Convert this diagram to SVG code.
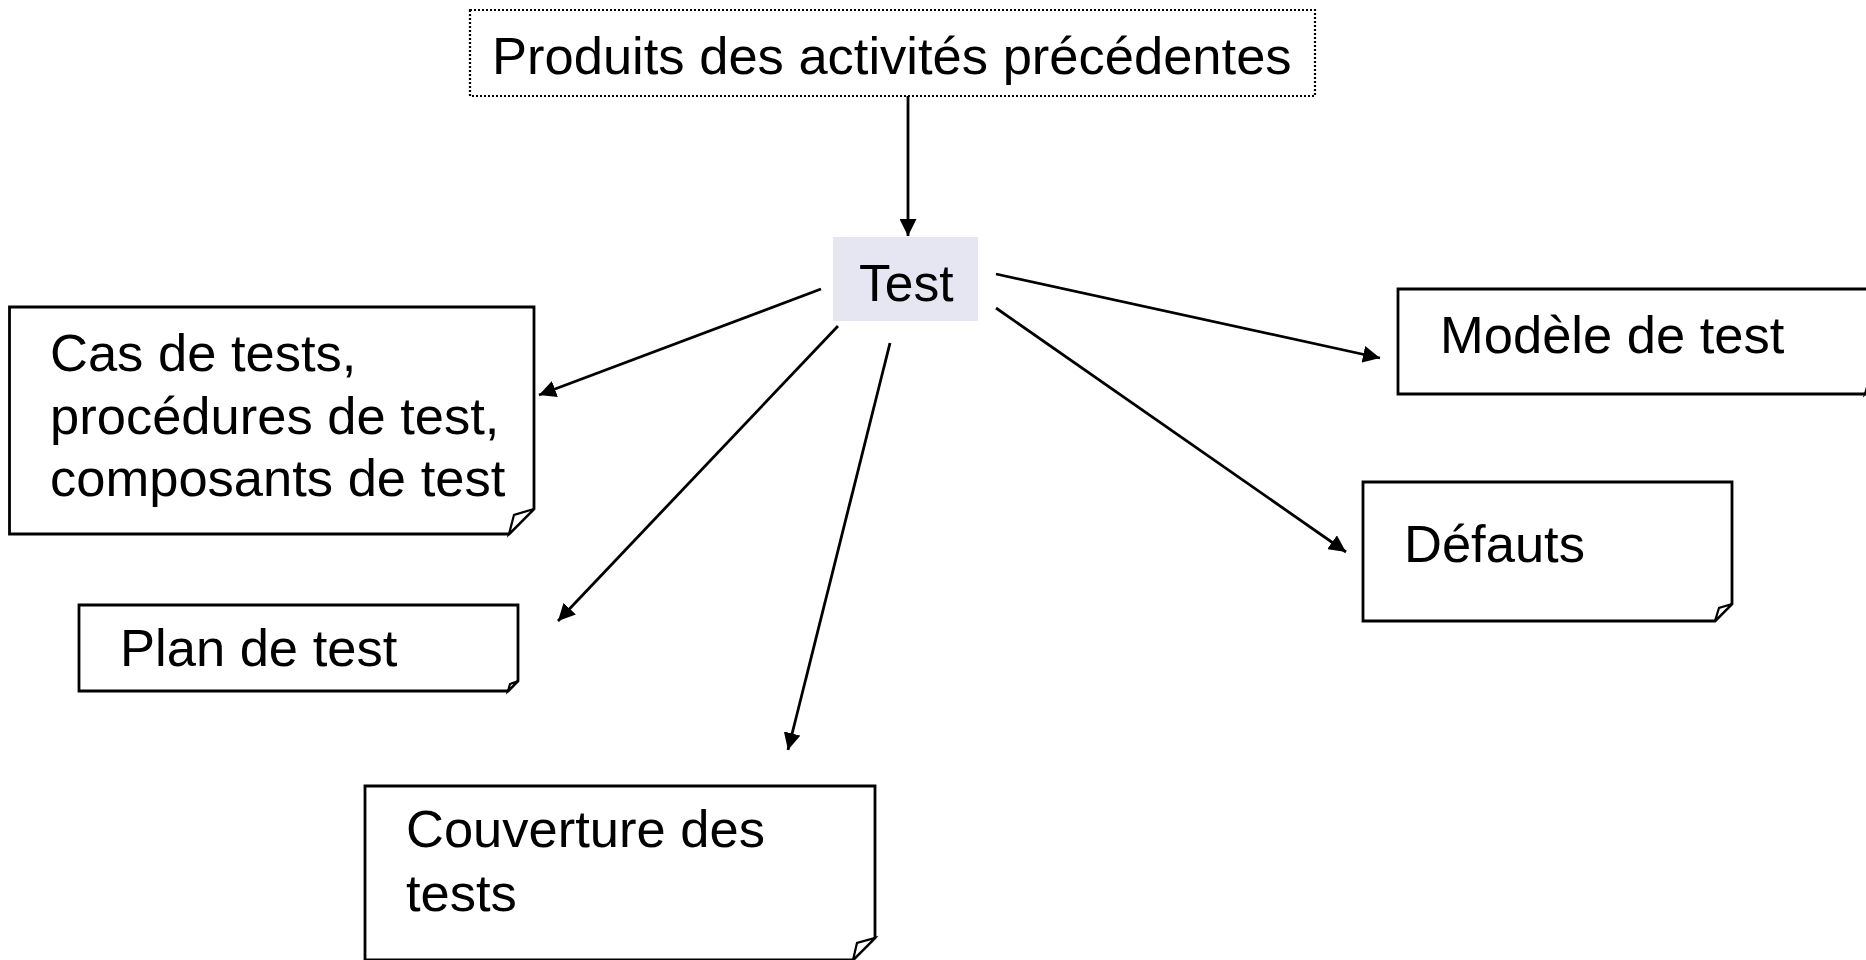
<svg xmlns="http://www.w3.org/2000/svg" width="1866" height="960" viewBox="0 0 1866 960">
  <style>
    text { font-family: "Liberation Sans", Arial, sans-serif; font-size: 52.5px; fill: #000; }
    .doc { fill: #fff; stroke: #000; stroke-width: 2.8; stroke-linejoin: miter; }
    .flap { fill: #fff; stroke: #000; stroke-width: 2.2; stroke-linejoin: miter; }
    .edge { stroke: #000; stroke-width: 2.8; fill: none; marker-end: url(#arrow); }
  </style>
  <defs>
    <!-- filled triangular arrowhead for the connectors -->
    <marker id="arrow" viewBox="0 0 10 10" refX="10" refY="5" markerWidth="17" markerHeight="17" markerUnits="userSpaceOnUse" orient="auto">
      <path d="M0,0 L10,5 L0,10 Z" fill="#000"/>
    </marker>
  </defs>
  <rect width="1866" height="960" fill="#fff"/>

  <g id="node-produits">
    <rect x="470" y="10" width="845" height="86" fill="#fff" stroke="#000" stroke-width="2.2" stroke-dasharray="2 2"/>
    <text x="492" y="74">Produits des activités précédentes</text>
  </g>

  <g id="node-test">
    <rect x="833" y="237" width="145" height="84" fill="#e6e6f2"/>
    <text x="859" y="301" style="font-size:51.5px">Test</text>
  </g>

  <g id="node-cas">
    <path class="doc" d="M9.5,307 H534 V509 L509,534 H9.5 Z"/>
    <path class="flap" d="M509,534 L514,515 L534,509 Z"/>
    <text x="50" y="371">Cas de tests,</text>
    <text x="50" y="434">procédures de test,</text>
    <text x="50" y="496">composants de test</text>
  </g>

  <g id="node-plan">
    <path class="doc" d="M79,605 H518 V681 L508,691 H79 Z"/>
    <path class="flap" d="M508,691 L510,684 L518,681 Z"/>
    <text x="120" y="666">Plan de test</text>
  </g>

  <g id="node-couverture">
    <path class="doc" d="M365,786 H875 V938 L853,960 H365 Z"/>
    <path class="flap" d="M853,960 L857,943 L875,938 Z"/>
    <text x="406" y="847">Couverture des</text>
    <text x="406" y="911">tests</text>
  </g>

  <g id="node-modele">
    <path class="doc" d="M1398,289 H1875 V384 L1865,394 H1398 Z"/>
    <path class="flap" d="M1865,394 L1867,387 L1875,384 Z"/>
    <text x="1440" y="353">Modèle de test</text>
  </g>

  <g id="node-defauts">
    <path class="doc" d="M1363,482 H1732 V604 L1715,621 H1363 Z"/>
    <path class="flap" d="M1715,621 L1719,608 L1732,604 Z"/>
    <text x="1404" y="562">Défauts</text>
  </g>

  <g id="connectors">
    <line class="edge" x1="908" y1="96" x2="908" y2="236"/>
    <line class="edge" x1="821" y1="289" x2="539" y2="395"/>
    <line class="edge" x1="838" y1="326" x2="558" y2="621"/>
    <line class="edge" x1="890" y1="343" x2="788" y2="750"/>
    <line class="edge" x1="996" y1="274" x2="1380" y2="358"/>
    <line class="edge" x1="996" y1="308" x2="1346" y2="552"/>
  </g>
</svg>
